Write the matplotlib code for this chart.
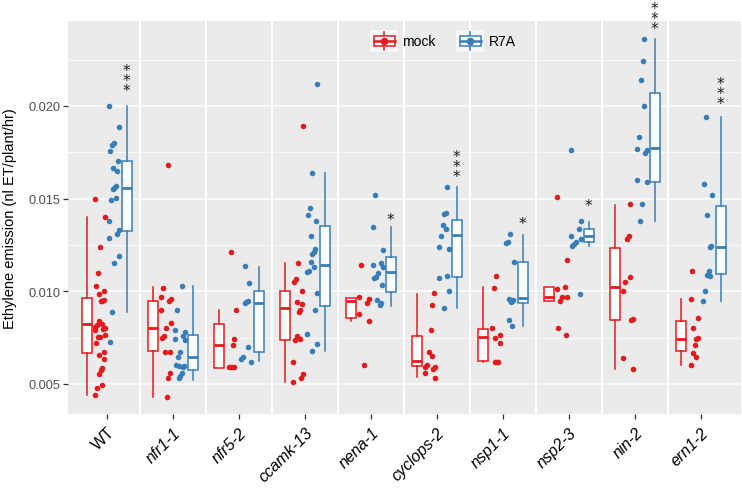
import matplotlib
matplotlib.use("Agg")
import matplotlib.pyplot as plt
from matplotlib.legend_handler import HandlerBase
from matplotlib.patches import Rectangle
from matplotlib.lines import Line2D
from matplotlib.ticker import FormatStrFormatter
from matplotlib.transforms import ScaledTranslation

plt.rcParams['font.family'] = ['Liberation Sans', 'DejaVu Sans']

genotypes = ['WT', 'nfr1-1', 'nfr5-2', 'ccamk-13', 'nena-1', 'cyclops-2',
             'nsp1-1', 'nsp2-3', 'nin-2', 'ern1-2']
treatments = ['mock', 'R7A']

# individual plants, ethylene emission (nl ET/plant/hr)
mock_points = [
    [0.0150, 0.0140, 0.0124, 0.0110, 0.0103, 0.0100, 0.00985, 0.00955, 0.0095, 0.0095,
     0.0084, 0.00825, 0.0082, 0.0081, 0.0080, 0.00795, 0.0079, 0.00765, 0.00755, 0.00755,
     0.0072, 0.00675, 0.00655, 0.00635, 0.00585, 0.00575, 0.00555, 0.00495, 0.0048, 0.0044],
    [0.0168, 0.0102, 0.0097, 0.0096, 0.0095, 0.0090, 0.0083, 0.0080, 0.0076, 0.0075,
     0.00675, 0.00675, 0.0056, 0.0053, 0.0043],
    [0.0121, 0.0090, 0.00745, 0.0071, 0.0059, 0.0059, 0.0059],
    [0.0189, 0.01155, 0.01065, 0.0105, 0.0100, 0.0094, 0.0093, 0.0090, 0.0089, 0.0076,
     0.00745, 0.00735, 0.0062, 0.00555, 0.0053, 0.0051],
    [0.0114, 0.0097, 0.0096, 0.00935, 0.0088, 0.0084, 0.0060],
    [0.0099, 0.00925, 0.0079, 0.0067, 0.0065, 0.0060, 0.0059, 0.0059, 0.0058, 0.0056, 0.0053],
    [0.0108, 0.0102, 0.0080, 0.00765, 0.0075, 0.0072, 0.0062, 0.0062, 0.0062],
    [0.0151, 0.0117, 0.01025, 0.0101, 0.0097, 0.00968, 0.0095, 0.0080, 0.00765],
    [0.0147, 0.0130, 0.0128, 0.01075, 0.0105, 0.0100, 0.0085, 0.00845, 0.0064, 0.0058],
    [0.0111, 0.0096, 0.00855, 0.0080, 0.0075, 0.0074, 0.0071, 0.00665, 0.00645, 0.0060],
]
r7a_points = [
    [0.0200, 0.01885, 0.0180, 0.0179, 0.01755, 0.01705, 0.01665, 0.0165, 0.0157, 0.01555,
     0.0155, 0.01505, 0.0149, 0.0138, 0.0133, 0.0131, 0.0129, 0.0119, 0.01155, 0.0089, 0.00725],
    [0.0103, 0.0090, 0.0079, 0.0078, 0.0076, 0.00745, 0.00735, 0.00675, 0.00645, 0.0060,
     0.00598, 0.00595, 0.0059, 0.0056, 0.00545, 0.0053],
    [0.01135, 0.01045, 0.0095, 0.00942, 0.00935, 0.0070, 0.00645, 0.00632, 0.0062],
    [0.0212, 0.0164, 0.0145, 0.0141, 0.0138, 0.0130, 0.0123, 0.0121, 0.0120, 0.0116,
     0.0113, 0.0111, 0.01105, 0.0099, 0.0090, 0.0077, 0.00715, 0.0068],
    [0.0152, 0.01345, 0.0122, 0.0115, 0.0114, 0.0113, 0.0110, 0.01075, 0.0107, 0.01035,
     0.00955, 0.00935, 0.00925],
    [0.01565, 0.0142, 0.01415, 0.01355, 0.01335, 0.0130, 0.0124, 0.0123, 0.01085, 0.0107,
     0.0100, 0.0091],
    [0.0131, 0.01265, 0.0126, 0.0116, 0.0096, 0.00955, 0.0095, 0.0094, 0.00845, 0.00815],
    [0.0176, 0.0138, 0.01335, 0.0130, 0.0128, 0.01265, 0.01255, 0.01245, 0.00985],
    [0.0236, 0.0224, 0.0214, 0.0200, 0.0183, 0.0177, 0.0176, 0.01745, 0.0160, 0.0159,
     0.0147, 0.0138],
    [0.0194, 0.0158, 0.0152, 0.0141, 0.01245, 0.0124, 0.0111, 0.0109, 0.01085, 0.0100, 0.00945],
]

# box statistics: (whisker low, q1, median, q3, whisker high)
mock_box = [
    (0.0044, 0.00667, 0.00824, 0.00962, 0.0140),
    (0.00431, 0.00676, 0.0080, 0.00949, 0.01022),
    (0.00586, 0.00586, 0.0071, 0.00824, 0.0090),
    (0.00509, 0.00737, 0.00908, 0.0100, 0.01153),
    (0.00841, 0.00858, 0.00946, 0.00964, 0.00964),
    (0.00536, 0.00597, 0.00622, 0.0076, 0.00985),
    (0.0062, 0.00622, 0.00752, 0.00797, 0.01022),
    (0.00946, 0.00946, 0.00968, 0.01025, 0.01025),
    (0.00581, 0.00847, 0.01025, 0.01232, 0.01466),
    (0.00602, 0.00676, 0.00743, 0.0084, 0.00958),
]
r7a_box = [
    (0.0089, 0.01324, 0.01559, 0.01705, 0.0200),
    (0.00523, 0.00576, 0.00644, 0.00764, 0.01027),
    (0.00624, 0.00671, 0.00937, 0.0100, 0.0113),
    (0.0068, 0.00922, 0.01144, 0.01354, 0.01638),
    (0.00922, 0.00995, 0.01102, 0.01183, 0.01345),
    (0.0091, 0.01075, 0.01305, 0.01385, 0.01564),
    (0.00815, 0.00935, 0.00962, 0.0116, 0.01304),
    (0.01246, 0.01264, 0.01297, 0.01336, 0.01375),
    (0.01381, 0.01591, 0.01771, 0.0207, 0.02361),
    (0.00946, 0.01095, 0.01241, 0.01462, 0.01939),
]

# significance of R7A vs mock, placed above the R7A box (value = lowest star)
sig_labels = ['***', '', '', '', '*', '***', '*', '*', '***', '***']
sig_height = [0.02095, None, None, None, 0.01401, 0.01629, 0.01376, 0.01476, 0.02430, 0.02027]

colors = {'mock': '#E41A1C', 'R7A': '#377EB8'}
jitter = [-0.8, 0.3, -0.2, 0.9, -0.5, 0.6, 0.0, -0.9, 0.4, -0.3, 0.8, 0.1, -0.6, 0.5, -0.1, 0.7]


class BoxKey(HandlerBase):
    def create_artists(self, legend, orig_handle, xdescent, ydescent,
                       width, height, fontsize, trans):
        c = orig_handle.get_color()
        x0, y0 = -xdescent, -ydescent
        cx, cy = x0 + width / 2, y0 + height / 2
        arts = [
            Rectangle((x0, y0), width, height, facecolor='#F7F7F7', edgecolor='none', transform=trans),
            Line2D([cx, cx], [y0 + 0.08 * height, y0 + 0.92 * height], color=c, lw=1.1, transform=trans),
            Rectangle((x0 + 0.12 * width, y0 + 0.28 * height), 0.76 * width, 0.44 * height,
                      facecolor='white', edgecolor=c, lw=1.1, transform=trans),
            Line2D([x0 + 0.12 * width, x0 + 0.88 * width], [cy, cy], color=c, lw=1.8, transform=trans),
            Line2D([cx], [cy], marker='o', ms=4.5, color=c, transform=trans),
        ]
        return arts


fig = plt.figure(figsize=(7.42, 4.89), dpi=100)
ax = fig.add_axes([68 / 742, 74 / 489, 673 / 742, 393 / 489])
ax.set_facecolor('#EBEBEB')
for s in ax.spines.values():
    s.set_visible(False)

ax.set_xlim(-0.59, 9.606)
ax.set_ylim(0.00338, 0.02458)
ax.set_yticks([0.005, 0.010, 0.015, 0.020])
ax.set_yticks([0.0075, 0.0125, 0.0175, 0.0225], minor=True)
ax.yaxis.set_major_formatter(FormatStrFormatter('%.3f'))
ax.set_axisbelow(True)
ax.grid(which='major', axis='y', color='white', lw=1.1)
ax.grid(which='minor', axis='y', color='white', lw=0.55)

# white gaps between the facet panels
for i in range(len(genotypes) - 1):
    ax.axvspan(i + 0.482, i + 0.518, color='white', lw=0, zorder=0.6)

for t, pts_all, box_all, shift in [('mock', mock_points, mock_box, -1),
                                   ('R7A', r7a_points, r7a_box, 1)]:
    c = colors[t]
    stats = [dict(whislo=b[0], q1=b[1], med=b[2], q3=b[3], whishi=b[4], fliers=[])
             for b in box_all]
    pos = [i + shift * 0.3 for i in range(len(genotypes))]
    ax.bxp(stats, positions=pos, widths=0.15, patch_artist=True, showcaps=False,
           showfliers=False, manage_ticks=False,
           boxprops=dict(facecolor='white', edgecolor=c, lw=1.1),
           whiskerprops=dict(color=c, lw=1.1),
           medianprops=dict(color=c, lw=2.0))
    for i, pts in enumerate(pts_all):
        xs = [i + shift * 0.105 + 0.09 * jitter[(k * 3 + i) % len(jitter)] for k in range(len(pts))]
        ax.scatter(xs, pts, s=16, color=c, lw=0, zorder=3)

for i, lab in enumerate(sig_labels):
    if lab:
        ax.annotate('\n'.join(lab), xy=(i + 0.29, sig_height[i]), xytext=(0, -7),
                    textcoords='offset points', ha='center', va='bottom',
                    fontsize=11, family='DejaVu Sans', color='#1A1A1A',
                    linespacing=0.58, annotation_clip=False)

ax.set_xticks(range(len(genotypes)))
ax.set_xticklabels(genotypes, rotation=45, ha='right', rotation_mode='anchor', fontsize=11.5)
shift_lbl = ScaledTranslation(-0.12, -0.06, fig.dpi_scale_trans)
for k, lbl in enumerate(ax.get_xticklabels()):
    lbl.set_color('black')
    lbl.set_transform(lbl.get_transform() + shift_lbl)
    if k > 0:
        lbl.set_fontstyle('italic')
ax.tick_params(axis='both', which='major', length=3.5, width=0.9, color='#333333')
ax.tick_params(axis='y', labelsize=9.2, labelcolor='#4D4D4D', pad=2)
ax.tick_params(axis='x', pad=4)
ax.tick_params(which='minor', length=0)
ax.set_ylabel('Ethylene emission (nl ET/plant/hr)', fontsize=10.5, labelpad=8)

handles = [Line2D([], [], color=colors[t], label=t) for t in treatments]
ax.legend(handles=handles, handler_map={Line2D: BoxKey()}, ncol=2, frameon=False,
          loc='center', bbox_to_anchor=(0.557, 0.949), handlelength=2.0, handleheight=2.0,
          handletextpad=0.3, columnspacing=1.5, fontsize=10)

fig.savefig('out.png', dpi=100)
